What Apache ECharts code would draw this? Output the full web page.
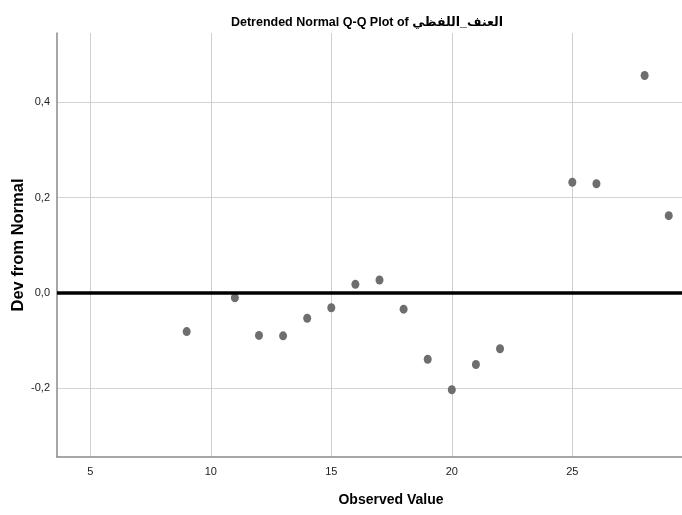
<!DOCTYPE html>
<html>
<head>
<meta charset="utf-8">
<script src="https://cdn.jsdelivr.net/npm/echarts@6/dist/echarts.min.js"></script>
<style>
  html, body { margin: 0; padding: 0; background: #fff; }
  #chart { width: 682px; height: 515px; }
</style>
</head>
<body>
<div id="chart"></div>
<script>
// Observed values and their deviation from the normal expectation
const observed = [9, 11, 12, 13, 14, 15, 16, 17, 18, 19, 20, 21, 22, 25, 26, 28, 29];
const deviation = [-0.081, -0.010, -0.089, -0.090, -0.053, -0.031, 0.018, 0.027, -0.034,
                   -0.139, -0.203, -0.150, -0.117, 0.232, 0.229, 0.456, 0.162];

const xTicks = [5, 10, 15, 20, 25];
const yTicks = [-0.2, 0.0, 0.2, 0.4];

const titleText = 'Detrended Normal Q-Q Plot of العنف_اللفظي';
const xName = 'Observed Value';
const yName = 'Dev from Normal';

const points = observed.map((v, i) => [v, deviation[i]]);
const font = '"Liberation Sans", Arial, "DejaVu Sans", sans-serif';

const chart = echarts.init(document.getElementById('chart'), null, { renderer: 'canvas' });
chart.setOption({
  animation: false,
  backgroundColor: '#ffffff',
  title: {
    text: titleText,
    left: 362,
    top: 11,
    textAlign: 'center',
    textStyle: { fontFamily: font, fontSize: 12.5, fontWeight: 'bold', color: '#000' }
  },
  grid: { left: 57, right: 0, top: 33, bottom: 58, containLabel: false, outerBoundsMode: 'none' },
  xAxis: {
    type: 'value',
    min: 3.62,
    max: 29.55,
    name: xName,
    nameLocation: 'middle',
    nameGap: 36,
    nameMoveOverlap: false,
    nameTextStyle: {
      fontFamily: font, fontSize: 14, fontWeight: 'bold', color: '#000',
      padding: [0, 0, 0, 43]
    },
    axisLine: { show: true, onZero: false, lineStyle: { color: '#8a8a8a', width: 1.5 } },
    axisTick: { show: false, customValues: xTicks },
    axisLabel: {
      customValues: xTicks,
      margin: 9,
      fontFamily: font, fontSize: 11, color: '#222'
    },
    splitLine: { show: true, lineStyle: { color: '#cfcfcf', width: 1 } }
  },
  yAxis: {
    type: 'value',
    min: -0.344,
    max: 0.545,
    name: yName,
    nameLocation: 'middle',
    nameGap: 30,
    nameMoveOverlap: false,
    nameTextStyle: { fontFamily: font, fontSize: 16.5, fontWeight: 'bold', color: '#000' },
    axisLine: { show: true, onZero: false, lineStyle: { color: '#8a8a8a', width: 1.5 } },
    axisTick: { show: false, customValues: yTicks },
    axisLabel: {
      customValues: yTicks,
      margin: 7,
      fontFamily: font, fontSize: 11, color: '#222',
      formatter: v => v.toFixed(1).replace('.', ',')
    },
    splitLine: { show: true, lineStyle: { color: '#d3d3d3', width: 1 } }
  },
  series: [{
    type: 'scatter',
    data: points,
    symbol: 'circle',
    symbolSize: [8, 9],
    itemStyle: { color: '#6e6e6e', opacity: 1 },
    markLine: {
      silent: true,
      symbol: 'none',
      label: { show: false },
      lineStyle: { color: '#000', width: 3.5, type: 'solid' },
      data: [{ yAxis: 0 }]
    },
    z: 3
  }]
});
</script>
</body>
</html>
